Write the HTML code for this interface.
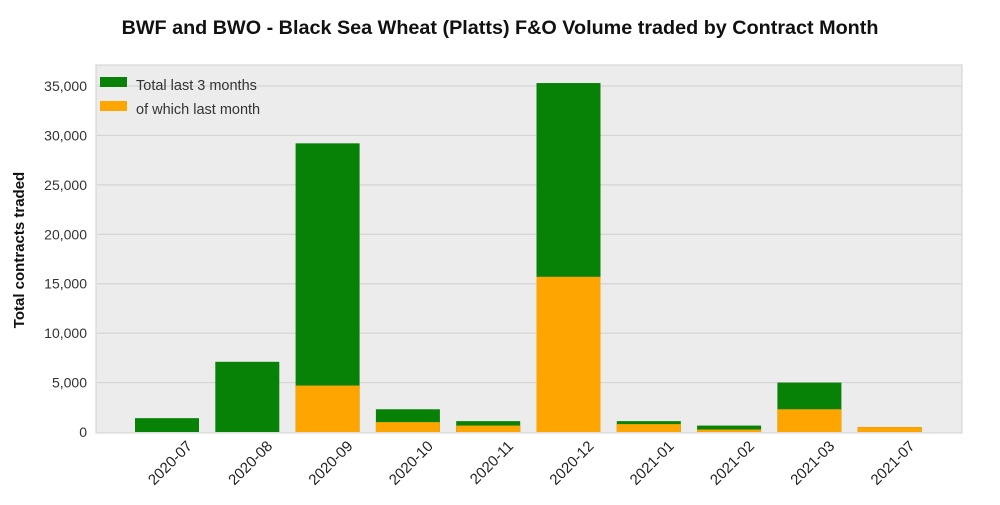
<!DOCTYPE html>
<html><head><meta charset="utf-8"><style>
body{margin:0;background:#fff;font-family:"Liberation Sans",sans-serif}
</style></head><body>
<svg width="1000" height="500" xmlns="http://www.w3.org/2000/svg">
<text x="500" y="34" text-anchor="middle" font-size="19.8" font-weight="bold" fill="#111">BWF and BWO - Black Sea Wheat (Platts) F&amp;O Volume traded by Contract Month</text>
<rect x="96" y="65" width="866" height="368" fill="#ececec" stroke="#d0d0d0"/>
<g id="grid"></g><g id="bars"></g><g id="axes"></g>
<text transform="translate(24,250) rotate(-90)" text-anchor="middle" font-size="15" font-weight="bold" fill="#111">Total contracts traded</text>
<g>
<rect x="100" y="77" width="27" height="10" fill="#078207"/>
<text x="136" y="90" font-size="14.5" fill="#333">Total last 3 months</text>
<rect x="100" y="101" width="27" height="10" fill="#ffa500"/>
<text x="136" y="114" font-size="14.5" fill="#333">of which last month</text>
</g>
</svg>
<script>
const categories=["2020-07","2020-08","2020-09","2020-10","2020-11","2020-12","2021-01","2021-02","2021-03","2021-07"];
const totalValues=[1400,7100,29200,2300,1100,35300,1100,650,5000,500];
const lastMonthValues=[0,0,4700,1000,650,15700,800,250,2300,500];
const yTicks=[0,5000,10000,15000,20000,25000,30000,35000];
const NS="http://www.w3.org/2000/svg";
const y=v=>432-v*346/35000;
const x=i=>167+i*80.3;
function mk(tag,attrs,parent){const e=document.createElementNS(NS,tag);for(const k in attrs)e.setAttribute(k,attrs[k]);document.getElementById(parent).appendChild(e);return e;}
yTicks.forEach(t=>{
 if(t>0){const l=mk('line',{x1:97,x2:961,y1:y(t),y2:y(t),stroke:'#d4d4d4','stroke-width':1.2},'grid');
 
 }
 const tx=mk('text',{x:87,y:y(t)+5,'text-anchor':'end','font-size':14,fill:'#333'},'axes');
 tx.textContent=t.toLocaleString('en-US');
 
 
});
categories.forEach((c,i)=>{
 const cx=x(i);
 const g=mk('rect',{x:cx-32,y:y(totalValues[i]),width:64,height:432-y(totalValues[i]),fill:'#078207'},'bars');
 
 
 const o=mk('rect',{x:cx-32,y:y(lastMonthValues[i]),width:64,height:432-y(lastMonthValues[i]),fill:'#ffa500'},'bars');
 
 
 const t=mk('text',{transform:`translate(${cx+26},${447}) rotate(-45)`,'text-anchor':'end','font-size':15,fill:'#222'},'axes');
 t.textContent=c;
 
 
});
</script>
</body></html>
